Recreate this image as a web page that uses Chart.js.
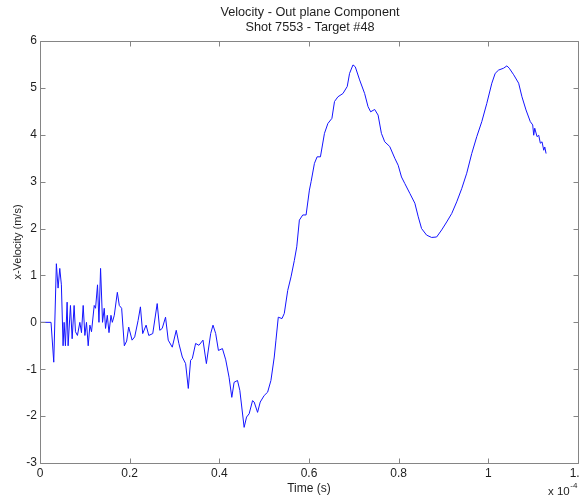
<!DOCTYPE html>
<html>
<head>
<meta charset="utf-8">
<script src="https://cdn.jsdelivr.net/npm/chart.js@4.4.0/dist/chart.umd.min.js"></script>
<style>
  html, body { margin: 0; padding: 0; background: #ffffff; overflow: hidden; }
  #wrap { width: 580px; height: 499px; overflow: hidden; position: relative; }
  canvas { display: block; }
</style>
</head>
<body>
<div id="wrap"><canvas id="chart" width="600" height="499" style="width:600px;height:499px"></canvas></div>
<script>
// ---------- data (time in units of 1e-4 s) ----------
const titleLines = ["Velocity - Out plane Component", "Shot 7553 - Target #48"];
const xAxisLabel = "Time (s)";
const yAxisLabel = "x-Velocity (m/s)";
const xExponentBase = "x 10";
const xExponentPower = "-4";
const xTickValues = [0, 0.2, 0.4, 0.6, 0.8, 1, 1.2];
const yTickValues = [-3, -2, -1, 0, 1, 2, 3, 4, 5, 6];

const timeValues = [
  0, 0.0246, 0.0307, 0.0365, 0.0403, 0.0441, 0.0477, 0.0515, 0.0538, 0.0567,
  0.0605, 0.0627, 0.0679, 0.0717, 0.0761, 0.0791, 0.0835, 0.0889, 0.0925, 0.0963,
  0.1001, 0.1037, 0.1075, 0.1113, 0.1149, 0.1209, 0.1239, 0.1283, 0.1315, 0.1351,
  0.1395, 0.1433, 0.1462, 0.1501, 0.1539, 0.1583, 0.1613, 0.1657, 0.1725, 0.1769,
  0.1821, 0.1881, 0.1933, 0.1978, 0.2054, 0.2112, 0.2188, 0.2240, 0.2291, 0.2367,
  0.2426, 0.2515, 0.2614, 0.2672, 0.2726, 0.2800, 0.2860, 0.2950, 0.3039, 0.3097,
  0.3174, 0.3248, 0.3308, 0.3359, 0.3398, 0.3471, 0.3545, 0.3635, 0.3711, 0.3807,
  0.3859, 0.3919, 0.3980, 0.4069, 0.4143, 0.4217, 0.4278, 0.4329, 0.4405, 0.4457,
  0.4553, 0.4607, 0.4665, 0.4741, 0.4777, 0.4853, 0.4912, 0.5001, 0.5077, 0.5151,
  0.5225, 0.5263, 0.5315, 0.5398, 0.5449, 0.5525, 0.5599, 0.5673, 0.5727, 0.5785,
  0.5861, 0.5935, 0.6009, 0.6047, 0.6121, 0.6181, 0.6255, 0.6345, 0.6421, 0.6511,
  0.6569, 0.6645, 0.6757, 0.6853, 0.6905, 0.6981, 0.7032, 0.7129, 0.7241, 0.7317,
  0.7375, 0.7465, 0.7541, 0.7615, 0.7689, 0.7801, 0.7913, 0.7989, 0.8063, 0.8137,
  0.8249, 0.8361, 0.8437, 0.8511, 0.8623, 0.8735, 0.8847, 0.8959, 0.9071, 0.9183,
  0.9295, 0.9406, 0.9518, 0.9630, 0.9742, 0.9854, 0.9966, 1.0078, 1.0153, 1.0229,
  1.0341, 1.0414, 1.0466, 1.0565, 1.0676, 1.0750, 1.0840, 1.0936, 1.0990, 1.1012,
  1.1035, 1.1086, 1.1124, 1.1160, 1.1198, 1.1236, 1.1259, 1.1288
];
const velocityValues = [
  0, 0, -0.85, 1.25, 0.73, 1.15, 0.8, -0.5, 0, -0.5,
  0.43, -0.5, 0.36, -0.35, 0.36, -0.2, -0.28, 0, -0.22, 0.36,
  -0.28, 0, -0.5, -0.06, -0.2, 0.36, 0.3, 0.8, 0, 1.15,
  0, 0.3, -0.13, 0.15, -0.22, 0.15, 0, 0.15, 0.64, 0.36,
  0.3, -0.5, -0.4, -0.1, -0.38, -0.31, 0.04, 0.33, -0.24, -0.06,
  -0.28, -0.24, 0.4, -0.17, -0.13, 0.11, -0.38, -0.53, -0.17, -0.45,
  -0.74, -0.88, -1.41, -0.81, -0.77, -0.45, -0.49, -0.38, -0.88, -0.24,
  -0.06, -0.24, -0.6, -0.56, -0.8, -1.17, -1.6, -1.28, -1.24, -1.45,
  -2.24, -2.02, -1.95, -1.67, -1.70, -1.92, -1.7, -1.56, -1.49, -1.24,
  -0.74, -0.38, 0.11, 0.08, 0.19, 0.68, 0.97, 1.32, 1.61, 2.18,
  2.29, 2.29, 2.82, 3.0, 3.39, 3.53, 3.53, 4.03, 4.24, 4.35,
  4.71, 4.81, 4.88, 5.03, 5.31, 5.49, 5.45, 5.17, 4.88, 4.6,
  4.49, 4.54, 4.42, 4.03, 3.85, 3.75, 3.5, 3.35, 3.1, 2.96,
  2.75, 2.54, 2.25, 2.0, 1.86, 1.81, 1.82, 1.97, 2.14, 2.32,
  2.57, 2.85, 3.18, 3.6, 3.96, 4.28, 4.67, 5.1, 5.31, 5.38,
  5.42, 5.47, 5.42, 5.28, 5.1, 4.81, 4.53, 4.28, 4.21, 3.99,
  4.14, 3.96, 3.99, 3.82, 3.85, 3.67, 3.74, 3.6
];

// ---------- chart ----------
const FONT = '"Liberation Sans", Arial, Helvetica, sans-serif';
const AXIS_COLOR = '#858585';
const TEXT_COLOR = '#1e1e1e';

const points = timeValues.map((t, i) => ({ x: t, y: velocityValues[i] }));

function fmt(v) {
  const r = Math.round(v * 10) / 10;
  return String(r);
}

const matlabDecor = {
  id: 'matlabDecor',
  afterDraw(chart) {
    const { ctx, chartArea: a, scales } = chart;
    const xs = scales.x, ys = scales.y;
    ctx.save();
    // box
    ctx.strokeStyle = AXIS_COLOR;
    ctx.lineWidth = 1;
    const L = Math.round(a.left) + 0.5, R = Math.round(a.right) + 0.5;
    const T = Math.round(a.top) + 0.5, B = Math.round(a.bottom) + 0.5;
    ctx.beginPath();
    ctx.rect(L, T, R - L, B - T);
    ctx.stroke();
    // inward ticks
    const tl = 5;
    ctx.beginPath();
    xTickValues.forEach(v => {
      const px = Math.round(xs.getPixelForValue(v)) + 0.5;
      ctx.moveTo(px, B); ctx.lineTo(px, B - tl);
      ctx.moveTo(px, T); ctx.lineTo(px, T + tl);
    });
    yTickValues.forEach(v => {
      const py = Math.round(ys.getPixelForValue(v)) + 0.5;
      ctx.moveTo(L, py); ctx.lineTo(L + tl, py);
      ctx.moveTo(R, py); ctx.lineTo(R - tl, py);
    });
    ctx.stroke();

    // title
    ctx.fillStyle = TEXT_COLOR;
    ctx.textAlign = 'center';
    ctx.textBaseline = 'middle';
    ctx.font = '12.7px ' + FONT;
    const cx = (a.left + a.right) / 2 + 1;
    ctx.fillText(titleLines[0], cx, 12.5);
    ctx.fillText(titleLines[1], cx, 27.5);

    // y label
    ctx.save();
    ctx.font = '11px ' + FONT;
    ctx.translate(18, 242);
    ctx.rotate(-Math.PI / 2);
    ctx.fillText(yAxisLabel, 0, 0);
    ctx.restore();

    // exponent
    ctx.textAlign = 'left';
    ctx.font = '11.5px ' + FONT;
    const ex = 548;
    ctx.fillText(xExponentBase, ex, 492);
    const w = ctx.measureText(xExponentBase).width;
    ctx.font = '8px ' + FONT;
    ctx.fillText(xExponentPower, ex + w + 0.5, 486);
    ctx.restore();
  }
};

new Chart(document.getElementById('chart'), {
  type: 'line',
  data: {
    datasets: [{
      data: points,
      borderColor: 'rgb(20,20,255)',
      borderWidth: 1,
      pointRadius: 0,
      tension: 0,
      fill: false
    }]
  },
  options: {
    responsive: false,
    animation: false,
    devicePixelRatio: 1,
    layout: { padding: { left: 0, right: 22, top: 41, bottom: 0 } },
    plugins: { legend: { display: false }, tooltip: { enabled: false }, title: { display: false } },
    scales: {
      x: {
        type: 'linear',
        min: 0, max: 1.2,
        afterBuildTicks: s => { s.ticks = xTickValues.map(v => ({ value: v })); },
        afterFit: s => { s.height = 36; },
        grid: { display: false, drawTicks: false },
        border: { display: false },
        ticks: {
          padding: 3,
          color: TEXT_COLOR,
          font: { family: FONT, size: 12 },
          maxRotation: 0,
          autoSkip: false,
          callback: v => fmt(v)
        },
        title: {
          display: true,
          text: xAxisLabel,
          color: TEXT_COLOR,
          font: { family: FONT, size: 12 },
          padding: { top: 0, bottom: 3 }
        }
      },
      y: {
        type: 'linear',
        min: -3, max: 6,
        afterBuildTicks: s => { s.ticks = yTickValues.map(v => ({ value: v })); },
        afterFit: s => { s.width = 40; },
        grid: { display: false, drawTicks: false },
        border: { display: false },
        ticks: {
          padding: 3,
          color: TEXT_COLOR,
          font: { family: FONT, size: 12 },
          autoSkip: false,
          callback: v => fmt(v)
        }
      }
    }
  },
  plugins: [matlabDecor]
});
</script>
</body>
</html>
